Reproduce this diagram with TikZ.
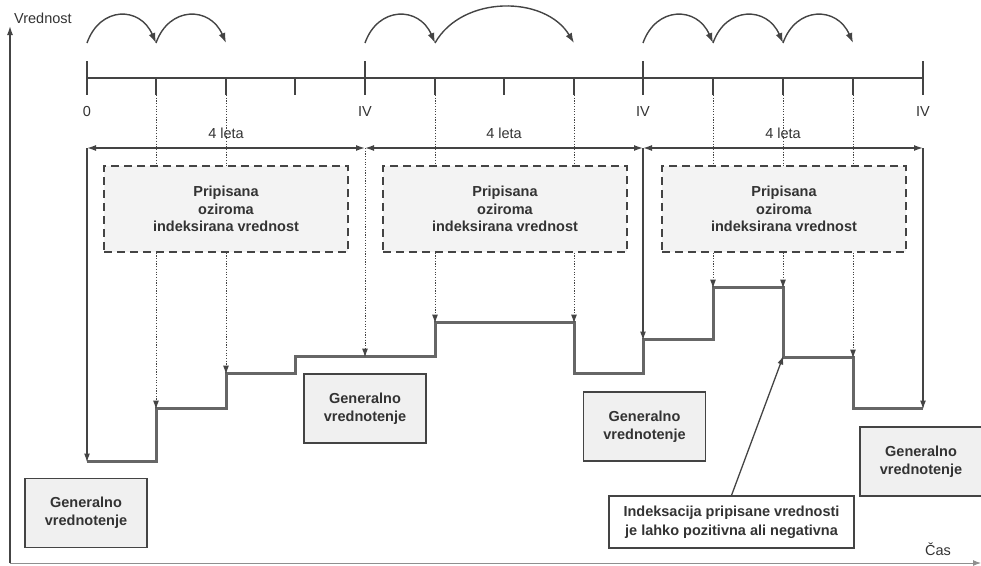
\documentclass[tikz,border=0pt]{standalone}
\usepackage{fontspec}
\setmainfont{Liberation Sans}
\usetikzlibrary{arrows.meta}
\definecolor{ln}{HTML}{444444}
\definecolor{stepc}{HTML}{666666}
\definecolor{boxfill}{HTML}{F0F0F0}
\definecolor{txt}{HTML}{333333}
\begin{document}
\begin{tikzpicture}[x=1pt,y=-1pt,
  tipa/.style={-{Latex[length=9pt,width=6pt]}},
  tl/.style={draw=ln, line width=1.4pt},
  dotln/.style={draw=ln, line width=1pt, dash pattern=on 1.2pt off 1.5pt},
  stepline/.style={draw=stepc, line width=3pt, line join=miter},
  solidv/.style={draw=ln, line width=1.4pt},
  genbox/.style={draw=ln, fill=boxfill, line width=1.3pt, minimum width=122pt, minimum height=69pt, align=center, font=\bfseries\fontsize{14.5}{18}\selectfont, text=txt, inner sep=0pt},
  idxbox/.style={draw=ln, dash pattern=on 8pt off 5pt, fill=boxfill!80, line width=1.3pt, minimum width=244pt, minimum height=86pt, align=center, font=\bfseries\fontsize{14.5}{17.5}\selectfont, text=txt, inner sep=0pt},
  notebox/.style={draw=ln, fill=white, line width=1.3pt, minimum width=245pt, minimum height=52pt, align=center, font=\bfseries\fontsize{14.5}{19}\selectfont, text=txt, inner sep=0pt},
  lbl/.style={font=\fontsize{14.5}{17}\selectfont, text=txt, inner sep=0pt},
  arc/.style={draw=ln, line width=1.4pt, -{Latex[length=10pt,width=7pt]}}
]
\useasboundingbox (0,0) rectangle (981,565);

% axes
\coordinate (O) at (10,563);
\coordinate (Ytop) at (10,26);
\coordinate (Xend) at (981,563);
\draw[draw=ln, line width=1.4pt, -{Latex[length=9pt,width=6pt]}] (O) -- (Ytop);
\draw[draw=ln!60, line width=1pt, -{Latex[length=8pt,width=6pt]}] (O) -- (Xend);
\node[lbl, anchor=west] (ylab) at (14,18) {Vrednost};
\node[lbl] (xlab) at (938,549) {Čas};

% timeline
\foreach \n/\x in {0/87,1/156,2/226,3/295,4/365,5/435,6/504,7/574,8/643,9/713,10/783,11/853,12/923} {
  \coordinate (t\n) at (\x,78);
  \coordinate (tb\n) at (\x,95);
}
\draw[tl] (t0) -- (t12);
\foreach \n/\x in {0/87,4/365,8/643,12/923} {\draw[tl] (\x,61) -- (tb\n);}
\foreach \n in {1,2,3,5,6,7,9,10,11} {\draw[tl] (t\n) -- (tb\n);}
\node[lbl] (l0) at (87,112) {0};
\node[lbl] (l4) at (365,112) {IV};
\node[lbl] (l8) at (643,112) {IV};
\node[lbl] (l12) at (923,112) {IV};

% top arcs
\coordinate (a0) at (87,43);
\coordinate (a1) at (156,43);
\coordinate (a2) at (226,43);
\coordinate (a4) at (365,43);
\coordinate (a5) at (435,43);
\coordinate (a7) at (574,43);
\coordinate (a8) at (643,43);
\coordinate (a9) at (713,43);
\coordinate (a10) at (783,43);
\coordinate (a11) at (853,43);
\draw[arc] (a0) .. controls (100,6) and (140,6) .. (a1);
\draw[arc] (a1) .. controls (169,6) and (210,6) .. (a2);
\draw[arc] (a4) .. controls (378,6) and (419,6) .. (a5);
\draw[arc] (a5) .. controls (462,-5) and (545,-5) .. (a7);
\draw[arc] (a8) .. controls (656,6) and (697,6) .. (a9);
\draw[arc] (a9) .. controls (726,6) and (767,6) .. (a10);
\draw[arc] (a10) .. controls (796,6) and (837,6) .. (a11);

% dimension lines
\coordinate (d0) at (87,148);
\coordinate (d4) at (365,148);
\coordinate (d8) at (643,148);
\coordinate (d12) at (923,148);
\draw[tl, {Latex[length=9pt,width=6pt]}-{Latex[length=9pt,width=6pt]}] (d0) -- (d4);
\draw[tl, {Latex[length=9pt,width=6pt]}-{Latex[length=9pt,width=6pt]}] (d4) -- (d8);
\draw[tl, {Latex[length=9pt,width=6pt]}-{Latex[length=9pt,width=6pt]}] (d8) -- (d12);
\node[lbl] (y1) at (226,133) {4 leta};
\node[lbl] (y2) at (504,133) {4 leta};
\node[lbl] (y3) at (783,133) {4 leta};

% indexed value boxes
\node[idxbox] (ib1) at (226,209) {Pripisana\\oziroma\\indeksirana vrednost};
\node[idxbox] (ib2) at (505,209) {Pripisana\\oziroma\\indeksirana vrednost};
\node[idxbox] (ib3) at (784,209) {Pripisana\\oziroma\\indeksirana vrednost};

% step line
\coordinate (s0) at (87,461);
\coordinate (s1a) at (156,461);
\coordinate (s1) at (156,408);
\coordinate (s2a) at (226,408);
\coordinate (s2) at (226,373);
\coordinate (s3a) at (295,373);
\coordinate (s3) at (295,356);
\coordinate (s4) at (365,356);
\coordinate (s5a) at (435,356);
\coordinate (s5) at (435,322);
\coordinate (s7) at (574,322);
\coordinate (s7a) at (574,373);
\coordinate (s8a) at (643,373);
\coordinate (s8) at (643,339);
\coordinate (s9a) at (713,339);
\coordinate (s9) at (713,287);
\coordinate (s10) at (783,287);
\coordinate (s10a) at (783,357);
\coordinate (s11) at (853,357);
\coordinate (s11a) at (853,408);
\coordinate (s12) at (923,408);
\draw[stepline] (s0) -- (s1a) -- (s1) -- (s2a) -- (s2) -- (s3a) -- (s3) -- (s5a) -- (s5) -- (s7) -- (s7a) -- (s8a) -- (s8) -- (s9a) -- (s9) -- (s10) -- (s10a) -- (s11) -- (s11a) -- (s12);

% dotted from ticks to boxes
\foreach \n/\b in {1/ib1,2/ib1,5/ib2,7/ib2,9/ib3,10/ib3,11/ib3} {
  \draw[dotln] (tb\n) -- (tb\n |- \b.north);
}
% dotted arrows from boxes to steps
\draw[dotln, tipa] (tb1 |- ib1.south) -- ([yshift=-1.5pt]s1);
\draw[dotln, tipa] (tb2 |- ib1.south) -- ([yshift=-1.5pt]s2);
\draw[dotln, tipa] (tb5 |- ib2.south) -- ([yshift=-1.5pt]s5);
\draw[dotln, tipa] (tb7 |- ib2.south) -- ([yshift=-1.5pt]s7);
\draw[dotln, tipa] (tb9 |- ib3.south) -- ([yshift=-1.5pt]s9);
\draw[dotln, tipa] (tb10 |- ib3.south) -- ([yshift=-1.5pt]s10);
\draw[dotln, tipa] (tb11 |- ib3.south) -- ([yshift=-1.5pt]s11);

% verticals from dimension line
\draw[solidv, tipa] (d0) -- ([yshift=-1.5pt]s0);
\draw[dotln, tipa] (d4) -- ([yshift=-1.5pt]s4);
\draw[solidv, tipa] (d8) -- ([yshift=-1.5pt]s8);
\draw[solidv, tipa] (d12) -- ([yshift=-1.5pt]s12);

% general valuation boxes
\node[genbox] (g1) at (86,513) {Generalno\\vrednotenje};
\node[genbox] (g2) at (365,408.5) {Generalno\\vrednotenje};
\node[genbox] (g3) at (644.5,426.5) {Generalno\\vrednotenje};
\node[genbox] (g4) at (921,461.5) {Generalno\\vrednotenje};

% note
\node[notebox] (note) at (731.5,522) {Indeksacija pripisane vrednosti\\je lahko pozitivna ali negativna};
\draw[draw=ln, line width=1.3pt, tipa] (note.north) -- ([xshift=0.5pt,yshift=1.5pt]s10a);
\end{tikzpicture}
\end{document}
